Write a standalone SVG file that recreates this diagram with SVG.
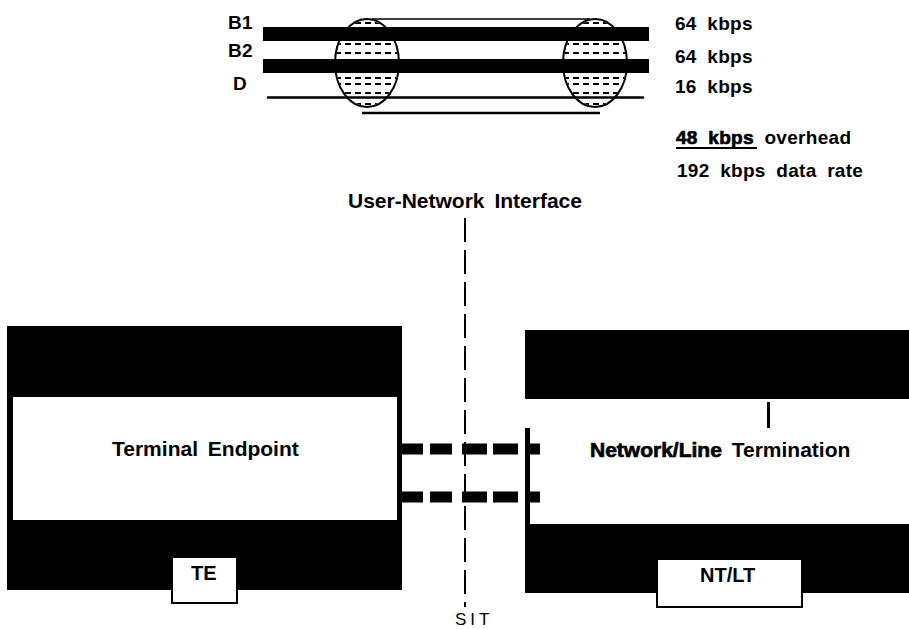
<svg xmlns="http://www.w3.org/2000/svg" width="909" height="629" viewBox="0 0 909 629">
<defs>
<style>
.lbl{font-family:"Liberation Sans",Arial,sans-serif;font-weight:bold;fill:#000}
.sm{font-size:19px;letter-spacing:0.3px;word-spacing:5px}
.big{font-size:21px;word-spacing:4px}
.heavy{stroke:#000;stroke-width:0.7px}
.blk{fill:#000}
.tag{fill:#fff;stroke:#000;stroke-width:2}
.fill{stroke:#000;stroke-width:2;stroke-dasharray:6 4;fill:none}
.conn{stroke:#000;stroke-width:11;fill:none}
</style>
<clipPath id="cl"><ellipse cx="367" cy="63" rx="31" ry="43"/></clipPath>
<clipPath id="cr"><ellipse cx="595" cy="63" rx="31" ry="43"/></clipPath>
</defs>
<rect width="909" height="629" fill="#fff"/>

<g id="cable">
<line x1="372" y1="19" x2="590" y2="19" stroke="#000" stroke-width="1.5"/>
<ellipse cx="367" cy="63" rx="32" ry="44" fill="#fff" stroke="#000" stroke-width="2"/>
<ellipse cx="595" cy="63" rx="32" ry="44" fill="#fff" stroke="#000" stroke-width="2"/>
<g clip-path="url(#cl)">
<path class="fill" d="M335 23H400M335 44H400M335 53H400M335 78H400M335 84H400M335 93H400M335 104H400"/>
</g>
<g clip-path="url(#cr)">
<path class="fill" d="M563 23H628M563 44H628M563 53H628M563 78H628M563 84H628M563 93H628M563 104H628"/>
</g>
<rect class="blk" x="263" y="27" width="386" height="14"/>
<rect class="blk" x="263" y="59" width="386" height="14"/>
<line x1="268" y1="97.5" x2="643" y2="97.5" stroke="#000" stroke-width="2.5" stroke-linecap="round"/>
<line x1="362" y1="113" x2="600" y2="113" stroke="#000" stroke-width="2.5"/>
<text class="lbl sm" x="228" y="29">B1</text>
<text class="lbl sm" x="228" y="57">B2</text>
<text class="lbl sm" x="233" y="90">D</text>
<text class="lbl sm" x="675" y="30">64 kbps</text>
<text class="lbl sm" x="675" y="63">64 kbps</text>
<text class="lbl sm" x="675" y="93">16 kbps</text>
<text class="lbl sm" x="676" y="144"><tspan class="heavy">48 kbps</tspan> overhead</text>
<line x1="676" y1="148" x2="757" y2="148" stroke="#000" stroke-width="2"/>
<text class="lbl sm" x="677" y="177">192 kbps data rate</text>
</g>

<g id="interface">
<text class="lbl big" x="348" y="208">User-Network Interface</text>
<line x1="465" y1="218" x2="465" y2="607" stroke="#000" stroke-width="2" stroke-dasharray="24 8"/>
<text x="455" y="625" font-family="Liberation Sans, Arial, sans-serif" font-size="17" letter-spacing="4" fill="#000">SIT</text>
</g>

<g id="te">
<rect class="blk" x="7" y="326" width="395" height="264"/>
<rect x="13" y="397" width="384" height="123" fill="#fff"/>
<rect class="tag" x="172" y="557" width="65" height="46"/>
<text class="lbl" x="191" y="580" font-size="20">TE</text>
<text class="lbl big" x="112" y="456">Terminal Endpoint</text>
</g>

<g id="nt">
<rect class="blk" x="525" y="330" width="384" height="69"/>
<rect class="blk" x="525" y="524" width="384" height="69"/>
<rect class="blk" x="525" y="428" width="5" height="96"/>
<rect class="blk" x="767" y="402" width="3" height="26"/>
<rect class="tag" x="657" y="559" width="145" height="48"/>
<text class="lbl" x="700" y="582" font-size="20">NT/LT</text>
<text class="lbl big" x="590" y="457"><tspan class="heavy">Network/Line</tspan> Termination</text>
</g>

<g id="connectors">
<path class="conn" d="M402 449H423M430 449H452M462 449H487M493 449H518M530 449H540"/>
<path class="conn" d="M402 497H423M430 497H452M462 497H487M493 497H518M530 497H540"/>
</g>
</svg>
